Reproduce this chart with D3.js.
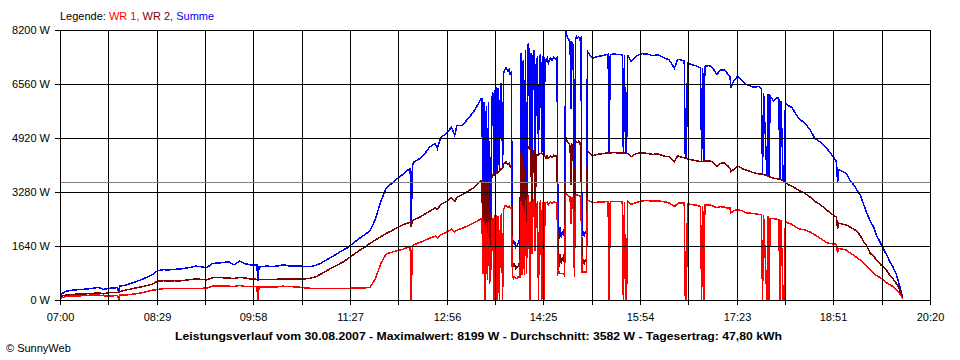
<!DOCTYPE html>
<html><head><meta charset="utf-8">
<script src="https://cdn.jsdelivr.net/npm/d3@7"></script>
<style>
body{margin:0;background:#fff;}
svg text{font-family:"Liberation Sans",Arial,sans-serif;font-size:11px;fill:#000;}
</style></head><body>
<svg id="c" width="960" height="360"></svg>
<script>
// ---- data ----
const times=[
"07:00","07:05","07:10","07:15","07:20","07:25","07:30","07:35","07:40","07:45",
"07:50","07:53","07:54","07:55","08:00","08:05","08:10","08:15","08:20","08:25",
"08:30","08:35","08:40","08:45","08:50","08:55","09:00","09:05","09:10","09:15",
"09:20","09:25","09:30","09:35","09:40","09:45","09:50","09:55","10:00","10:01",
"10:02","10:03","10:05","10:10","10:15","10:20","10:25","10:30","10:35","10:40",
"10:45","10:50","10:55","11:00","11:05","11:10","11:15","11:20","11:25","11:30",
"11:35","11:40","11:45","11:50","11:55","12:00","12:05","12:10","12:15","12:20",
"12:22","12:23","12:24","12:25","12:30","12:35","12:40","12:45","12:47","12:50",
"12:55","13:00","13:03","13:05","13:10","13:15","13:20","13:25","13:27","13:28",
"13:29","13:30","13:31","13:32","13:33","13:34","13:35","13:36","13:37","13:38",
"13:39","13:40","13:41","13:42","13:43","13:44","13:45","13:46","13:47","13:48",
"13:49","13:50","13:51","13:52","13:53","13:54","13:55","13:56","13:57","13:58",
"13:59","14:00","14:01","14:02","14:03","14:04","14:05","14:06","14:07","14:08",
"14:09","14:10","14:11","14:12","14:13","14:14","14:15","14:16","14:17","14:18",
"14:19","14:20","14:21","14:22","14:23","14:24","14:25","14:26","14:27","14:28",
"14:29","14:30","14:31","14:32","14:33","14:34","14:35","14:36","14:37","14:38",
"14:39","14:40","14:41","14:42","14:43","14:44","14:45","14:46","14:47","14:48",
"14:49","14:50","14:51","14:52","14:53","14:54","14:55","14:56","14:57","14:58",
"14:59","15:00","15:01","15:02","15:03","15:04","15:05","15:06","15:07","15:10",
"15:15","15:20","15:24","15:25","15:26","15:30","15:35","15:37","15:38","15:39",
"15:40","15:41","15:42","15:45","15:50","15:55","16:00","16:05","16:10","16:15",
"16:20","16:25","16:28","16:30","16:34","16:35","16:36","16:37","16:40","16:45",
"16:49","16:50","16:51","16:52","16:53","16:57","17:00","17:04","17:07","17:11",
"17:14","17:16","17:17","17:19","17:23","17:28","17:31","17:37","17:43","17:45",
"17:46","17:47","17:50","17:51","17:52","17:53","17:56","18:00","18:01","18:02",
"18:03","18:05","18:06","18:07","18:10","18:13","18:17","18:20","18:25","18:30",
"18:34","18:39","18:45","18:51","18:54","18:55","18:56","19:00","19:03","19:06",
"19:10","19:13","19:16","19:19","19:22","19:25","19:28","19:31","19:35","19:37",
"19:40","19:43","19:46","19:49","19:51","19:53","19:55"];

const wr1=[
50,100,120,120,130,140,150,155,130,120,
130,135,0,150,150,170,190,220,260,300,
320,345,345,350,355,355,355,355,355,360,
420,425,425,420,410,440,410,405,410,410,
0,400,400,400,400,400,420,410,400,390,
370,355,355,350,350,350,350,350,355,360,
365,370,380,640,1110,1400,1450,1500,1540,1600,
1610,0,1630,1670,1740,1800,1880,1940,1890,1980,
2050,2150,2070,2120,2180,2250,2330,2420,2480,2480,
800,2400,0,2350,600,2400,500,750,2400,2500,
0,2550,2550,0,2550,0,2550,2600,0,2750,
2850,2850,2850,2820,2850,2800,2800,750,650,700,
650,650,700,700,700,3000,750,2900,750,3050,
800,3100,3150,0,3000,1400,2950,3050,1500,2900,
2950,0,2950,3000,0,2980,0,2950,2950,2970,
2900,2950,2980,2950,2950,2980,2970,2950,2970,800,
850,800,800,800,800,750,3249,3200,3170,3150,
3150,2300,3100,3100,700,3150,3200,3170,3180,3150,
3170,850,850,850,850,850,3020,3020,3000,2960,
2970,2980,2990,0,2990,2990,2990,2990,0,2990,
0,0,2990,2900,2960,3010,3020,3000,3010,2990,
2950,2840,2930,2950,2940,0,0,2920,2900,2880,
2840,0,2850,0,2880,2890,2860,2800,2835,2820,
2790,2800,2650,2700,2750,2700,2650,2630,2600,2590,
0,2580,0,2550,0,2480,2470,2450,2440,0,
2420,0,0,2380,2330,2300,2200,2160,2126,2060,
1980,1873,1740,1700,1690,1417,1569,1540,1520,1440,
1360,1280,1215,1120,1012,920,810,740,660,620,
527,470,405,300,240,150,20];

const wr2=[
100,150,160,180,185,190,200,220,185,230,
235,235,230,250,300,330,370,400,440,480,
580,585,580,585,580,600,620,640,625,610,
675,680,675,670,650,690,670,640,630,630,
600,625,630,630,630,630,640,640,635,638,
640,660,700,790,880,980,1060,1150,1260,1380,
1500,1600,1720,1820,1920,2025,2100,2200,2280,2340,
2360,2230,2380,2430,2500,2600,2700,2800,2750,2900,
2980,3110,2990,3120,3200,3300,3400,3560,3614,3620,
1300,3600,1300,3550,1200,3600,1000,1250,3700,3800,
3800,3800,3850,3850,3900,3900,3950,4000,4000,4150,
4150,4200,4150,4130,4150,4050,4100,1150,1050,1100,
950,1000,1000,1100,1050,4500,1250,4400,1150,4550,
1300,4600,4650,4600,4500,2300,4450,4550,2500,4400,
4400,4400,4450,4450,4450,4420,4420,4350,4300,4380,
4300,4350,4370,4330,4350,4400,4380,4350,4380,1200,
1000,1400,1100,1300,1150,1500,4950,4850,4780,4750,
4700,3500,4700,4650,1000,4750,4800,4780,4820,4750,
4780,1100,1250,1100,1200,1150,4530,4480,4450,4390,
4430,4450,4470,4470,4470,4475,4460,4470,4470,4460,
4460,4450,4450,4350,4450,4470,4450,4420,4440,4370,
4350,4200,4380,4350,4320,4300,4300,4280,4260,4230,
4200,4200,4200,4200,4220,4230,4200,4050,4150,4160,
4080,4000,3900,3950,4070,3980,3950,3870,3830,3820,
3820,3810,3780,3770,3760,3730,3700,3680,3670,3660,
3650,3620,3600,3564,3500,3460,3380,3320,3240,3120,
3000,2900,2733,2581,2520,2150,2330,2300,2280,2227,
2150,2075,1950,1772,1640,1417,1330,1215,1060,1012,
900,759,640,506,400,230,30];

const summe=[
150,260,290,310,320,335,355,385,320,355,
370,375,230,420,450,505,560,620,695,770,
895,920,915,930,940,965,990,1030,1010,980,
1110,1120,1140,1160,1070,1180,1100,1070,1060,1060,
600,1000,1010,1030,1020,1030,1070,1040,1040,1030,
1020,1010,1050,1120,1220,1310,1410,1510,1600,1740,
1860,1980,2100,2450,3000,3400,3540,3680,3810,3950,
3980,2230,4050,4180,4280,4420,4650,4750,4600,4930,
5050,5250,5000,5300,5300,5500,5700,5980,6100,6100,
2100,6000,1300,5900,1800,6000,1500,2000,6100,6300,
3800,6350,6400,3850,6450,3900,6500,6600,4000,6900,
7000,7050,7000,6950,7000,6850,6900,1900,1700,1800,
1600,1650,1700,1800,1750,7500,2000,7300,1900,7600,
2100,7700,7800,4600,7500,3700,7400,7600,4000,7300,
7350,4400,7400,7450,4450,7400,4420,7300,7250,7350,
7200,7300,7350,7280,7300,7380,7350,7300,7350,2000,
1850,2200,1900,2100,1950,2250,8199,8050,7950,7900,
7850,5800,7800,7750,1700,7900,8000,7950,8000,7900,
7950,1950,2100,1950,2050,2000,7550,7500,7450,7350,
7400,7430,7460,4470,7460,7470,7450,7460,4470,7450,
4460,4450,7440,7250,7410,7480,7470,7420,7450,7360,
7300,7040,7310,7300,7260,4300,4300,7200,7160,7110,
7040,4200,7050,4200,7100,7120,7060,6850,6980,6990,
6870,6780,6450,6620,6790,6650,6550,6470,6480,6400,
3820,6300,3780,6250,3760,6200,6050,6150,6100,3660,
6050,3620,3600,5970,5900,5850,5620,5500,5365,5160,
4910,4800,4607,4350,4200,3544,3950,3900,3848,3650,
3493,3330,3189,2900,2632,2400,2227,1950,1700,1560,
1380,1170,1000,780,557,330,50];

const yTicks=[0,1640,3280,4920,6560,8200];
const xTickLabels=["07:00","08:29","09:58","11:27","12:56","14:25","15:54","17:23","18:51","20:20"];
const seriesNames=["WR 1","WR 2","Summe"];
const averageW=3582;
const legendPrefix="Legende: ";
const titleText="Leistungsverlauf vom 30.08.2007 - Maximalwert: 8199 W - Durchschnitt: 3582 W - Tagesertrag: 47,80 kWh";
const creditText="\u00A9 SunnyWeb";

// ---- drawing ----
const toMin=s=>{const p=s.split(":");return +p[0]*60+ +p[1];};
const tMin=times.map(toMin);
const startMin=toMin(xTickLabels[0]), endMin=toMin(xTickLabels[xTickLabels.length-1]);
const L=60,R=930,T=30,B=300;
const x=d3.scaleLinear().domain([startMin,endMin]).range([L,R]);
const y=d3.scaleLinear().domain([0,8200]).range([B,T]);
const xr=x.copy().interpolate(d3.interpolateRound);
const yr=y.copy().interpolate(d3.interpolateRound);
const svg=d3.select("#c");
svg.append("rect").attr("width",960).attr("height",360).attr("fill","#fff");

const nGrid=(xTickLabels.length-1)*2;
const gridMin=d3.range(nGrid+1).map(i=>startMin+i*(endMin-startMin)/nGrid);

// series (drawn first; grid lies on top as in the original)
const colors={"WR 1":"#ff0000","WR 2":"#800000","Summe":"#0000ff"};
const seriesData={"WR 1":wr1,"WR 2":wr2,"Summe":summe};
const line=d3.line().x(d=>x(d[0])).y(d=>y(d[1]));
["Summe","WR 2","WR 1"].forEach(name=>{
  const vals=seriesData[name];
  svg.append("path").datum(tMin.map((t,i)=>[t,vals[i]]))
    .attr("d",line).attr("fill","none").attr("stroke",colors[name])
    .attr("stroke-width",1.5).attr("stroke-linejoin","miter")
    .attr("shape-rendering","crispEdges");
});

const g=svg.append("g").attr("shape-rendering","crispEdges");
g.selectAll("line.v").data(gridMin).join("line")
  .attr("x1",d=>xr(d)+0.5).attr("x2",d=>xr(d)+0.5)
  .attr("y1",T).attr("y2",B).attr("stroke","#000");
g.selectAll("line.h").data(yTicks).join("line")
  .attr("x1",L).attr("x2",R+1)
  .attr("y1",d=>yr(d)+0.5).attr("y2",d=>yr(d)+0.5).attr("stroke","#000");
g.append("line").attr("x1",L+1).attr("x2",R)
  .attr("y1",yr(averageW)+0.5).attr("y2",yr(averageW)+0.5).attr("stroke","#808080");

// axes
const xAxis=d3.axisBottom(xr).tickValues(gridMin).tickSize(5).tickPadding(8)
  .tickFormat((d,i)=>i%2===0?xTickLabels[i/2]:"");
const ax=svg.append("g").attr("transform",`translate(0,${B})`).call(xAxis);
ax.select(".domain").remove();
ax.selectAll("line").attr("stroke","#000").attr("shape-rendering","crispEdges");
ax.selectAll("text").style("font-size","11px").attr("fill","#000");
const yAxis=d3.axisLeft(yr).tickValues(yTicks).tickSize(5).tickPadding(5).tickFormat(d=>d+" W");
const ay=svg.append("g").attr("transform",`translate(${L},0)`).call(yAxis);
ay.select(".domain").remove();
ay.selectAll("line").attr("stroke","#000").attr("shape-rendering","crispEdges");
ay.selectAll("text").style("font-size","11px").attr("fill","#000");

// legend
const lg=svg.append("text").attr("x",L).attr("y",20);
lg.append("tspan").text(legendPrefix).attr("fill","#000");
seriesNames.forEach((n,i)=>{
  lg.append("tspan").text(n+(i<seriesNames.length-1?", ":"")).attr("fill",colors[n]);
});

// title and credit
svg.append("text").attr("x",478.5).attr("y",340).attr("text-anchor","middle")
  .style("font-weight","bold").attr("textLength",607).attr("lengthAdjust","spacingAndGlyphs")
  .text(titleText);
svg.append("text").attr("x",6).attr("y",352).text(creditText);
</script>
</body></html>
